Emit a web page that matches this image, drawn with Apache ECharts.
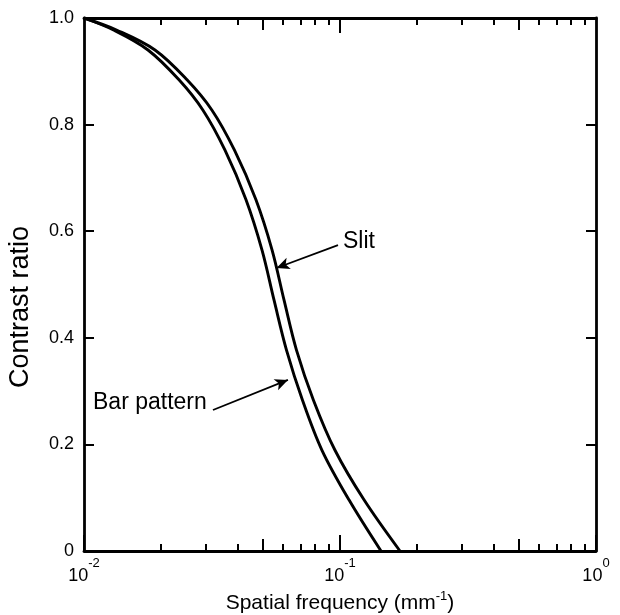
<!DOCTYPE html>
<html>
<head>
<meta charset="utf-8">
<script src="https://cdn.jsdelivr.net/npm/echarts@6/dist/echarts.min.js"></script>
<style>html,body{margin:0;padding:0;background:#fff}#c{width:620px;height:615px}</style>
</head>
<body>
<div id="c"></div>
<script>
// Spatial frequency (mm^-1) and contrast ratio
const slitFreq     = [0.01, 0.01346, 0.01893, 0.02526, 0.03162, 0.03871, 0.04696, 0.05426, 0.06043, 0.06761, 0.07877, 0.09561, 0.1241, 0.1715];
const slitContrast = [1.00, 0.977,   0.940,   0.884,   0.827,   0.752,   0.659,   0.565,   0.471,   0.377,   0.283,   0.189,   0.096,  0.0];
const barFreq      = [0.01, 0.01310, 0.01778, 0.02350, 0.02916, 0.03554, 0.04294, 0.04956, 0.05523, 0.06180, 0.07137, 0.08505, 0.1084, 0.1446];
const barContrast  = [1.00, 0.977,   0.940,   0.884,   0.827,   0.752,   0.659,   0.565,   0.471,   0.377,   0.283,   0.189,   0.096,  0.0];
const minorTicks = [0.02, 0.03, 0.04, 0.06, 0.07, 0.08, 0.09, 0.2, 0.3, 0.4, 0.6, 0.7, 0.8, 0.9];
const midTicks = [0.05, 0.5];
// annotation arrows: [from, to] in data space
const slitArrow = [[0.0982, 0.574], [0.0565, 0.531]];
const barArrow  = [[0.0319, 0.2645], [0.0626, 0.321]];

const FONT = 'Liberation Sans';
const K = '#000';
function zip(a, b) { return a.map((v, i) => [v, b[i]]); }

function tickAxis(pos, vals, len, main) {
  return {
    type: 'log', logBase: 10, min: 0.01, max: 1, position: pos, gridIndex: 0,
    axisLine: { show: main, lineStyle: { color: K, width: 2.8 } },
    axisTick: { show: true, inside: true, length: len, lineStyle: { color: K, width: 2 }, customValues: vals },
    axisLabel: { show: false }, splitLine: { show: false }
  };
}

const chart = echarts.init(document.getElementById('c'), null, { renderer: 'canvas' });
const option = {
  backgroundColor: '#fff',
  animation: false,
  grid: { left: 84, right: 24, top: 18, bottom: 64, containLabel: false, outerBoundsMode: 'none' },
  xAxis: [
    {
      type: 'log', logBase: 10, min: 0.01, max: 1, position: 'bottom',
      axisLine: { show: true, lineStyle: { color: K, width: 2.8 } },
      axisTick: { show: true, inside: true, length: 16, lineStyle: { color: K, width: 2 } },
      splitLine: { show: false },
      axisLabel: {
        margin: 6, color: K, fontFamily: FONT,
        formatter: v => '{b|10}{s|' + Math.round(Math.log10(v)) + '}',
        rich: {
          b: { fontSize: 18, fontFamily: FONT, color: K },
          s: { fontSize: 13, fontFamily: FONT, color: K, padding: [0, 0, 26, 0] }
        }
      },
      name: 'Spatial frequency (mm{s|-1})',
      nameLocation: 'middle', nameGap: 38,
      nameTextStyle: { fontSize: 21, fontFamily: FONT, color: K,
        rich: { s: { fontSize: 13, fontFamily: FONT, color: K, padding: [0, 0, 12, 0] } } }
    },
    tickAxis('bottom', minorTicks, 7, false),
    tickAxis('bottom', midTicks, 12, false),
    tickAxis('top', [0.1], 15, true),
    tickAxis('top', minorTicks, 7, false),
    tickAxis('top', midTicks, 12, false)
  ],
  yAxis: [
    {
      type: 'value', min: 0, max: 1, interval: 0.2, position: 'left',
      axisLine: { show: true, lineStyle: { color: K, width: 2.8 } },
      axisTick: { show: true, inside: true, length: 10, lineStyle: { color: K, width: 2 } },
      splitLine: { show: false },
      axisLabel: { margin: 10, fontSize: 18, fontFamily: FONT, color: K,
        formatter: v => (v === 0 ? '0' : v.toFixed(1)) }
    },
    {
      type: 'value', min: 0, max: 1, interval: 0.2, position: 'right',
      axisLine: { show: true, lineStyle: { color: K, width: 2.8 } },
      axisTick: { show: true, inside: true, length: 10, lineStyle: { color: K, width: 2 } },
      axisLabel: { show: false }, splitLine: { show: false }
    }
  ],
  graphic: [
    { type: 'text', x: 21, y: 307, rotation: Math.PI / 2,
      style: { text: 'Contrast ratio', fontSize: 27, fontFamily: FONT, fill: K, align: 'center', verticalAlign: 'middle' } },
    { type: 'text', x: 343, y: 242,
      style: { text: 'Slit', fontSize: 23, fontFamily: FONT, fill: K, align: 'left', verticalAlign: 'middle' } },
    { type: 'text', x: 93, y: 403,
      style: { text: 'Bar pattern', fontSize: 23, fontFamily: FONT, fill: K, align: 'left', verticalAlign: 'middle' } }
  ],
  series: [
    {
      name: 'Slit', type: 'line', xAxisIndex: 0, yAxisIndex: 0,
      data: zip(slitFreq, slitContrast), smooth: 0.35, showSymbol: false,
      lineStyle: { color: K, width: 2.9 },
      markLine: {
        silent: true, symbol: ['none', 'arrow'], symbolSize: [9, 13],
        lineStyle: { color: K, width: 1.8, type: 'solid' }, label: { show: false },
        data: [[{ coord: slitArrow[0] }, { coord: slitArrow[1] }]]
      }
    },
    {
      name: 'Bar pattern', type: 'line', xAxisIndex: 0, yAxisIndex: 0,
      data: zip(barFreq, barContrast), smooth: 0.35, showSymbol: false,
      lineStyle: { color: K, width: 2.9 },
      markLine: {
        silent: true, symbol: ['none', 'arrow'], symbolSize: [9, 13],
        lineStyle: { color: K, width: 1.8, type: 'solid' }, label: { show: false },
        data: [[{ coord: barArrow[0] }, { coord: barArrow[1] }]]
      }
    }
  ]
};
chart.setOption(option);
</script>
</body>
</html>
